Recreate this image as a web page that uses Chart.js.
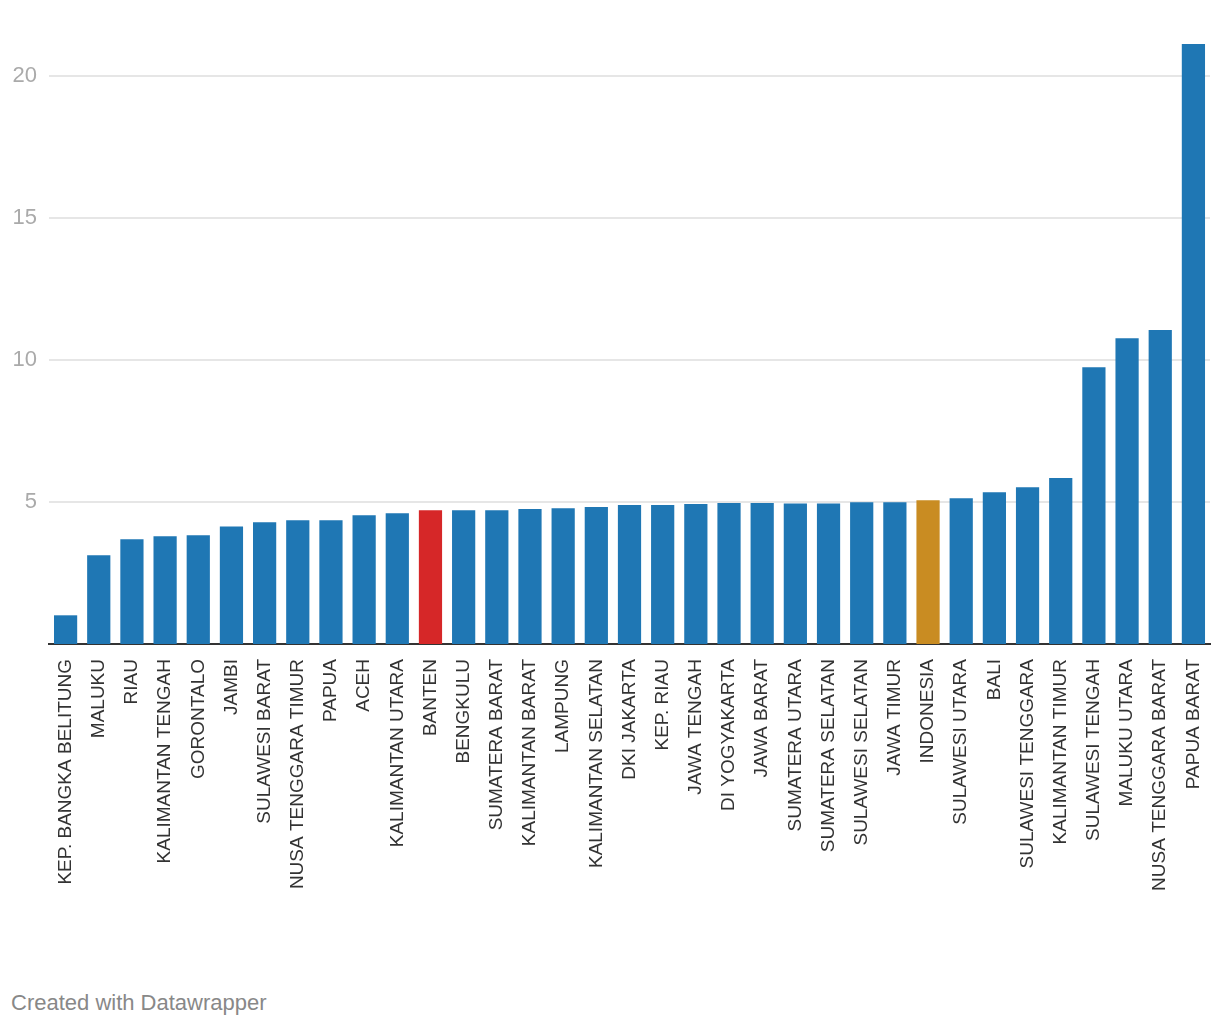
<!DOCTYPE html>
<html>
<head>
<meta charset="utf-8">
<script src="https://cdn.jsdelivr.net/npm/chart.js@4/dist/chart.umd.min.js"></script>
<style>
  body { margin: 0; background: #fff; font-family: "Liberation Sans", Arial, sans-serif; }
  #wrap { position: relative; width: 1220px; height: 1026px; }
  #footer { position: absolute; left: 11px; top: 992px; font-size: 22px; line-height: 22px; color: #888; }
</style>
</head>
<body>
<div id="wrap">
  <canvas id="chart" width="1220" height="960"></canvas>
  <div id="footer">Created with Datawrapper</div>
</div>
<script>
// Provinces, sorted ascending
const categories = [
  'KEP. BANGKA BELITUNG', 'MALUKU', 'RIAU', 'KALIMANTAN TENGAH', 'GORONTALO',
  'JAMBI', 'SULAWESI BARAT', 'NUSA TENGGARA TIMUR', 'PAPUA', 'ACEH',
  'KALIMANTAN UTARA', 'BANTEN', 'BENGKULU', 'SUMATERA BARAT', 'KALIMANTAN BARAT',
  'LAMPUNG', 'KALIMANTAN SELATAN', 'DKI JAKARTA', 'KEP. RIAU', 'JAWA TENGAH',
  'DI YOGYAKARTA', 'JAWA BARAT', 'SUMATERA UTARA', 'SUMATERA SELATAN', 'SULAWESI SELATAN',
  'JAWA TIMUR', 'INDONESIA', 'SULAWESI UTARA', 'BALI', 'SULAWESI TENGGARA',
  'KALIMANTAN TIMUR', 'SULAWESI TENGAH', 'MALUKU UTARA', 'NUSA TENGGARA BARAT', 'PAPUA BARAT'
];
const values = [
  1.01, 3.12, 3.69, 3.79, 3.83,
  4.14, 4.29, 4.36, 4.36, 4.53,
  4.60, 4.71, 4.71, 4.71, 4.75,
  4.78, 4.82, 4.89, 4.89, 4.93,
  4.96, 4.96, 4.95, 4.95, 4.99,
  4.99, 5.06, 5.13, 5.34, 5.52,
  5.84, 9.74, 10.76, 11.05, 21.12
];
const yTicks = [5, 10, 15, 20];

// colours: highlight Banten and the national figure
const barColors = categories.map(c => {
  if (c === 'BANTEN') return '#d62728';
  if (c === 'INDONESIA') return '#c98c22';
  return '#1f77b4';
});

const font = '"Liberation Sans", Arial, sans-serif';

new Chart(document.getElementById('chart'), {
  type: 'bar',
  data: {
    labels: categories,
    datasets: [{
      data: values,
      backgroundColor: barColors,
      borderWidth: 0,
      categoryPercentage: 1.0,
      barPercentage: 0.7
    }]
  },
  options: {
    responsive: false,
    animation: false,
    layout: { padding: { top: 19, left: 0, right: 10, bottom: 0 } },
    plugins: { legend: { display: false }, tooltip: { enabled: false } },
    scales: {
      x: {
        grid: { display: false },
        border: { color: '#333', width: 2 },
        ticks: {
          autoSkip: false,
          maxRotation: 90,
          minRotation: 90,
          padding: 7,
          color: '#333',
          font: { family: font, size: 19 }
        },
        afterFit: s => {
          s.height = 316;
          s.paddingLeft = 0;
          s.paddingRight = 0;
        }
      },
      y: {
        min: 0,
        max: 22,
        border: { display: false },
        grid: { color: '#e6e6e6', lineWidth: 2, drawTicks: false },
        ticks: {
          padding: 12,
          color: '#aaa',
          font: { family: font, size: 22 }
        },
        afterBuildTicks: s => { s.ticks = yTicks.map(v => ({ value: v })); },
        afterFit: s => {
          s.width = 49;
          s.paddingTop = 0;
          s.paddingBottom = 0;
        }
      }
    }
  }
});
</script>
</body>
</html>
